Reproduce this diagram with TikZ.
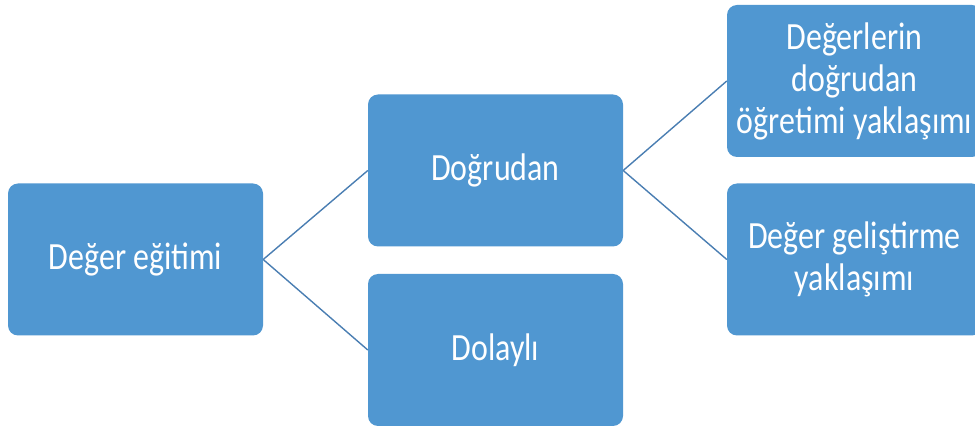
\documentclass[tikz,border=0pt]{standalone}
\usepackage{fontspec}
\setmainfont{Carlito}[FakeStretch=0.83]
\definecolor{boxblue}{RGB}{80,151,209}
\definecolor{linkblue}{RGB}{74,126,178}
\begin{document}
\begin{tikzpicture}[x=1pt,y=-1pt,
  box/.style={draw=none, fill=boxblue, rounded corners=10pt, minimum width=255pt, minimum height=152pt,
    inner sep=0pt, text=white, align=center, font=\fontsize{38.5}{42}\selectfont},
  link/.style={draw=linkblue, line width=1.4pt}]
\useasboundingbox (0,0) rectangle (975,427);
\clip (0,0) rectangle (975,427);
\node[box] (root) at (135.5,259.5) {Değer eğitimi};
\node[box] (dir) at (495.5,170.5) {Doğrudan};
\node[box] (ind) at (495.5,350) {Dolaylı};
\node[box] (tr) at (854.5,81) {Değerlerin\\doğrudan\\öğretimi yaklaşımı};
\node[box] (br) at (854.5,259.5) {Değer geliştirme\\yaklaşımı};
\draw[link] (root.east) -- (dir.west);
\draw[link] (root.east) -- (ind.west);
\draw[link] (dir.east) -- (tr.west);
\draw[link] (dir.east) -- (br.west);
\end{tikzpicture}
\end{document}
